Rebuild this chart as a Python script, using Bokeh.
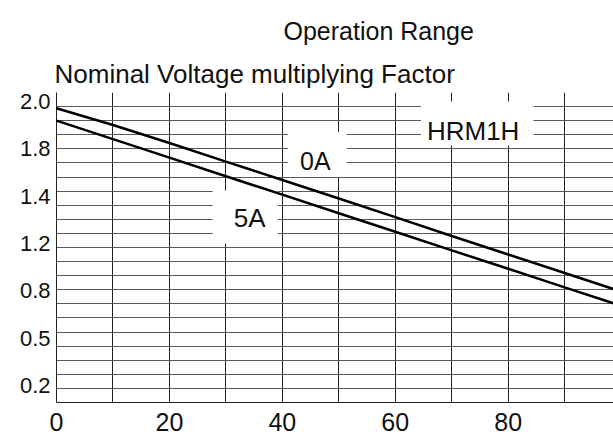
import numpy as np
from bokeh.plotting import figure
from bokeh.models import FixedTicker, Label, Title, Range1d
from bokeh.embed import file_html
from bokeh.resources import INLINE

# ---- data ----
temperature = [0, 10, 20, 30, 40, 50, 60, 70, 80, 90, 100]
factor_0A = [1.958, 1.852, 1.738, 1.620, 1.503, 1.386, 1.268, 1.148, 1.031, 0.913, 0.796]
factor_5A = [1.880, 1.762, 1.645, 1.527, 1.410, 1.292, 1.175, 1.057, 0.940, 0.822, 0.705]

x_ticks = [0, 20, 40, 60, 80]
y_ticks = [2.0, 1.7, 1.4, 1.1, 0.8, 0.5, 0.2]
y_tick_labels = ["2.0", "1.8", "1.4", "1.2", "0.8", "0.5", "0.2"]

curve_labels = ["0A", "5A", "HRM1H"]
curve_label_x = [46.2, 33.4, 74.5]
curve_label_y = [1.665, 1.268, 1.861]

title_text = "Operation Range"
subtitle_text = "Nominal Voltage multiplying Factor"

FONT = "Liberation Sans"
X_MAX = 98.65
Y_MIN, Y_MAX = 0.092, 2.058

p = figure(width=613, height=440, output_backend="svg", toolbar_location=None,
           x_range=Range1d(0, X_MAX), y_range=Range1d(Y_MIN, Y_MAX),
           min_border_left=56, min_border_right=0, min_border_top=92,
           min_border_bottom=38, title=title_text)

p.outline_line_color = None
p.background_fill_color = "white"
p.border_fill_color = "white"

# titles (p.title is the outer one, the added Title sits next to the frame)
p.title.text_font = FONT
p.title.text_font_size = "25px"
p.title.text_font_style = "normal"
p.title.text_color = "#111111"
p.title.align = "left"
p.title.offset = 227
p.title.standoff = 18
sub_title = Title(text=subtitle_text, align="left", offset=-2, text_font=FONT,
                  text_font_size="26px", text_font_style="normal",
                  text_color="#111111", standoff=7)
p.add_layout(sub_title, "above")

# grid
p.xgrid.ticker = FixedTicker(ticks=list(range(0, 100, 10)))
p.xgrid.grid_line_color = "#222222"
p.xgrid.grid_line_width = 1
p.ygrid.ticker = FixedTicker(ticks=list(np.linspace(Y_MIN, Y_MAX, 23)))
p.ygrid.grid_line_color = "#5a5a5a"
p.ygrid.grid_line_width = 1

# axes
for ax in (p.xaxis[0], p.yaxis[0]):
    ax.major_tick_out = 0
    ax.major_tick_in = 0
    ax.minor_tick_out = 0
    ax.minor_tick_in = 0
    ax.axis_line_color = "#222222"
    ax.axis_line_width = 1
    ax.major_label_text_font = FONT
    ax.major_label_text_color = "#111111"

p.xaxis.ticker = FixedTicker(ticks=x_ticks)
p.xaxis.major_label_text_font_size = "25px"
p.xaxis.major_label_standoff = 10

p.yaxis.ticker = FixedTicker(ticks=y_ticks)
p.yaxis.major_label_overrides = {v: t for v, t in zip(y_ticks, y_tick_labels)}
p.yaxis.major_label_text_font_size = "22px"
p.yaxis.major_label_standoff = 6

# label boxes (white background masking the grid); anchor = box centre
paddings = [dict(left=12, right=16, top=15, bottom=2),
            dict(left=21, right=12, top=12, bottom=11),
            dict(left=6, right=14, top=14, bottom=0)]
sizes = ["25px", "26px", "26px"]
for txt, lx, ly, pad, fs in zip(curve_labels, curve_label_x, curve_label_y, paddings, sizes):
    p.add_layout(Label(x=lx, y=ly, text=txt, text_align="center", text_baseline="middle",
                       text_font=FONT, text_font_size=fs, text_color="#111111",
                       background_fill_color="white", padding=pad))

# curves
for series in (factor_0A, factor_5A):
    r = p.line(temperature, series, line_color="black", line_width=2.5)
    r.level = "overlay"

open("out.html", "w").write(file_html(p, INLINE))
